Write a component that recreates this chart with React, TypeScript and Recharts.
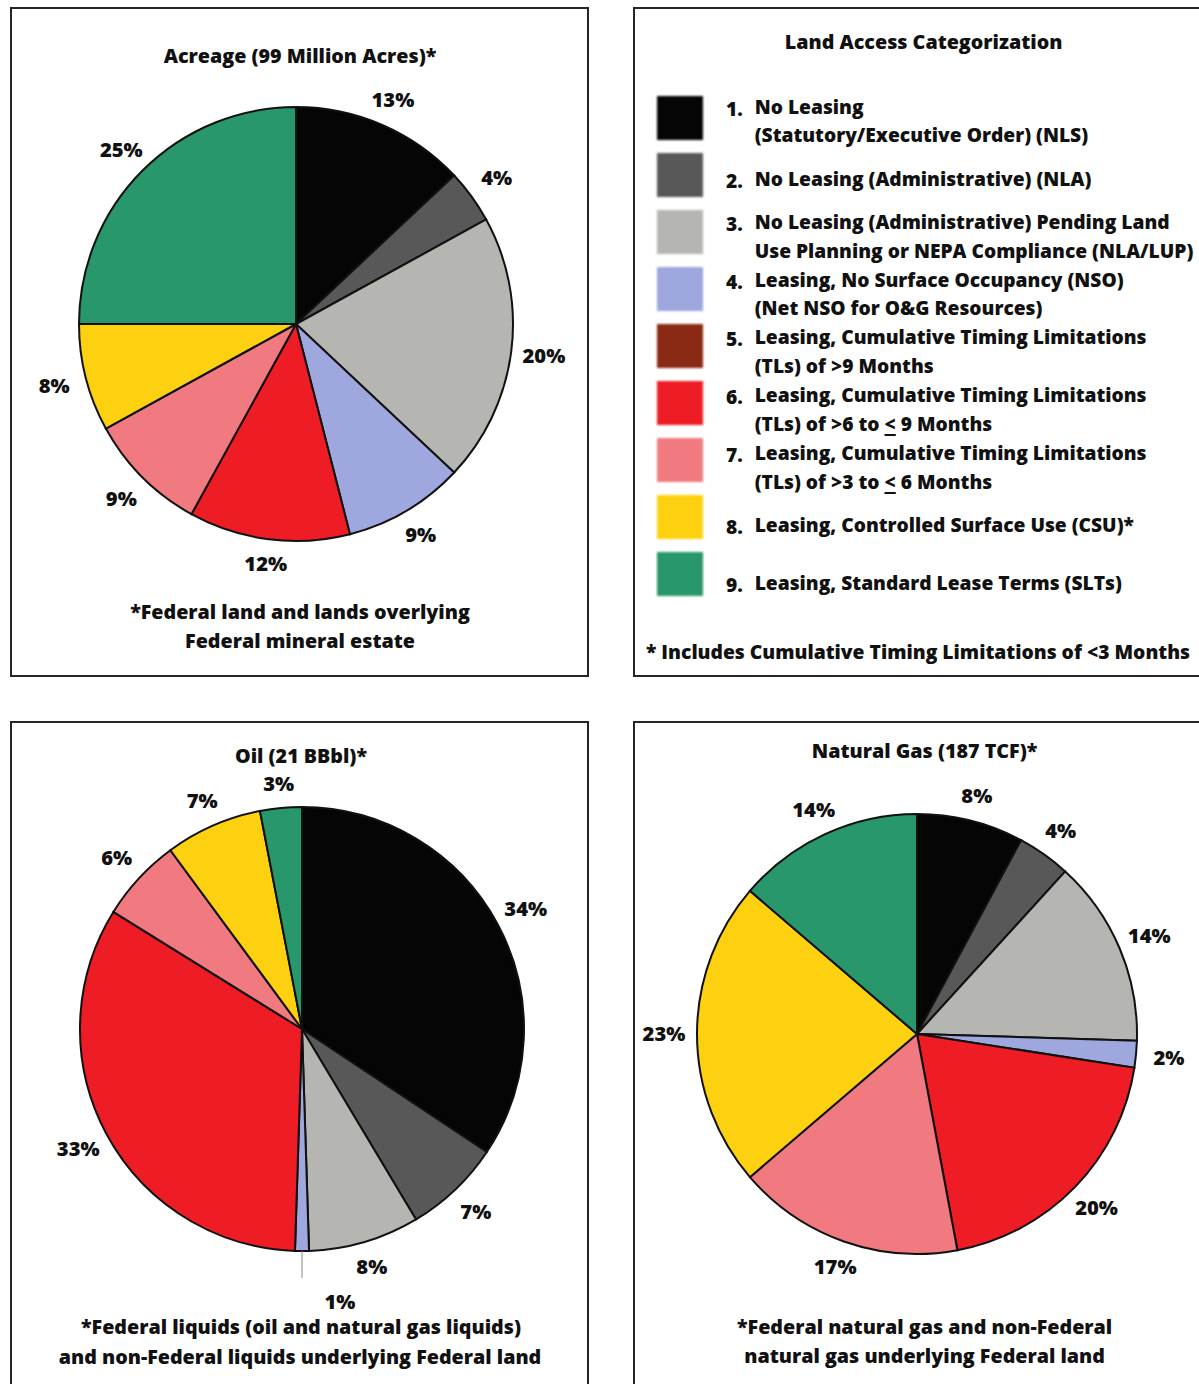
import React from 'react';
import { PieChart, Pie, Cell } from 'recharts';

// ---------- data ----------
const categoryNames = [
  'No Leasing (Statutory/Executive Order) (NLS)',
  'No Leasing (Administrative) (NLA)',
  'No Leasing (Administrative) Pending Land Use Planning or NEPA Compliance (NLA/LUP)',
  'Leasing, No Surface Occupancy (NSO)',
  'Leasing, Cumulative Timing Limitations (TLs) of >9 Months',
  'Leasing, Cumulative Timing Limitations (TLs) of >6 to ≤ 9 Months',
  'Leasing, Cumulative Timing Limitations (TLs) of >3 to ≤ 6 Months',
  'Leasing, Controlled Surface Use (CSU)*',
  'Leasing, Standard Lease Terms (SLTs)',
];
const categoryColors = [
  '#050505', '#585858', '#b5b5b2', '#9ea7de', '#8a2a14',
  '#ee1c25', '#f17a80', '#fdd10f', '#28976b',
];
const legendLines: string[][] = [
  ['No Leasing', '(Statutory/Executive Order) (NLS)'],
  ['No Leasing (Administrative) (NLA)'],
  ['No Leasing (Administrative) Pending Land', 'Use Planning or NEPA Compliance (NLA/LUP)'],
  ['Leasing, No Surface Occupancy (NSO)', '(Net NSO for O&G Resources)'],
  ['Leasing, Cumulative Timing Limitations', '(TLs) of >9 Months'],
  ['Leasing, Cumulative Timing Limitations', '(TLs) of >6 to ≤ 9 Months'],
  ['Leasing, Cumulative Timing Limitations', '(TLs) of >3 to ≤ 6 Months'],
  ['Leasing, Controlled Surface Use (CSU)*'],
  ['Leasing, Standard Lease Terms (SLTs)'],
];
const acreageValues = [13, 4, 20, 9, 0, 12, 9, 8, 25];
const oilValues = [34, 7, 8, 1, 0, 33, 6, 7, 3];
const gasValues = [8, 4, 14, 2, 0, 20, 17, 23, 14];

const acreageTitle = 'Acreage (99 Million Acres)*';
const oilTitle = 'Oil (21 BBbl)*';
const gasTitle = 'Natural Gas (187 TCF)*';
const acreageNotes = ['*Federal land and lands overlying', 'Federal mineral estate'];
const oilNotes = ['*Federal liquids (oil and natural gas liquids)', 'and non-Federal liquids underlying Federal land'];
const gasNotes = ['*Federal natural gas and non-Federal', 'natural gas underlying Federal land'];
const legendTitle = 'Land Access Categorization';
const legendNote = '* Includes Cumulative Timing Limitations of <3 Months';

// ---------- styles ----------
const FONT = "'Open Sans', 'Noto Sans', sans-serif";
const FS = 19.7;
const FW = 800;
const INK = '#111';
const RAD = Math.PI / 180;

const buildData = (values: number[]) =>
  categoryNames
    .map((name, i) => ({ name, value: values[i], color: categoryColors[i] }))
    .filter((d) => d.value > 0);

const renderLabel = (props: any) => {
  const { cx, cy, midAngle, outerRadius, value, percent } = props;
  if (!value) return null;
  const c = Math.cos(-midAngle * RAD);
  const s = Math.sin(-midAngle * RAD);
  const text = `${value}%`;
  if (percent < 0.015) {
    const x1 = cx + outerRadius * c;
    const y1 = cy + outerRadius * s;
    const x2 = cx + (outerRadius + 27) * c;
    const y2 = cy + (outerRadius + 27) * s;
    return (
      <g>
        <line x1={x1} y1={y1} x2={x2} y2={y2} stroke="#888" strokeWidth={1} />
        <text x={x2 + 38} y={y2 + 24} dy="0.36em" textAnchor="middle" fontFamily={FONT} fontWeight={FW} fontSize={FS + 0.5} fill={INK}>
          {text}
        </text>
      </g>
    );
  }
  const d = outerRadius + 23 + 10 * Math.abs(c);
  return (
    <text x={cx + d * c} y={cy + d * s} dy="0.36em" textAnchor="middle" fontFamily={FONT} fontWeight={FW} fontSize={FS + 0.5} fill={INK}>
      {text}
    </text>
  );
};

function Txt({ x, y, children, align = 'center', lh = 28, size = FS }: any) {
  const style: React.CSSProperties = {
    position: 'absolute',
    top: y - 14.5,
    lineHeight: `${lh}px`,
    fontSize: size,
    fontWeight: FW,
    fontFamily: FONT,
    color: INK,
    whiteSpace: 'nowrap',
  };
  if (align === 'center') {
    style.left = x - 500;
    style.width = 1000;
    style.textAlign = 'center';
  } else {
    style.left = x;
  }
  return <div style={style}>{children}</div>;
}

function Box({ left, top, width, height }: any) {
  return (
    <div
      style={{
        position: 'absolute', left, top, width, height,
        border: '2px solid #262626', boxSizing: 'border-box', background: 'transparent',
      }}
    />
  );
}

function PieBlock({ values, left, top, width, height, cx, cy, r }: any) {
  const data = buildData(values);
  return (
    <div style={{ position: 'absolute', left, top, width, height }}>
      <PieChart width={width} height={height} margin={{ top: 0, right: 0, bottom: 0, left: 0 }}>
        <Pie
          data={data}
          dataKey="value"
          nameKey="name"
          cx={cx}
          cy={cy}
          innerRadius={0}
          outerRadius={r}
          startAngle={90}
          endAngle={-270}
          stroke="#111"
          strokeWidth={2}
          label={renderLabel}
          labelLine={false}
          isAnimationActive={false}
        >
          {data.map((d, i) => (
            <Cell key={i} fill={d.color} />
          ))}
        </Pie>
      </PieChart>
    </div>
  );
}

function renderLine(line: string) {
  const parts = line.split('≤');
  return parts.map((p, i) => (
    <React.Fragment key={i}>
      {i > 0 && <span style={{ textDecoration: 'underline', textDecorationThickness: '2px', textUnderlineOffset: '3px' }}>&lt;</span>}
      {p}
    </React.Fragment>
  ));
}

function Legend() {
  const LH = 28.7;
  const LS = 19.2;
  return (
    <>
      <Txt x={923.6} y={42}>{legendTitle}</Txt>
      {legendLines.map((lines, i) => {
        const swTop = 95.5 + i * 57.1;
        const center = swTop + 22 + 4 + i * 0.6;
        const firstY = center - ((lines.length - 1) * LH) / 2;
        return (
          <React.Fragment key={i}>
            <div
              style={{
                position: 'absolute', left: 657, top: swTop, width: 46, height: 44,
                background: categoryColors[i], filter: 'blur(1.2px)',
              }}
            />
            <Txt x={726} y={firstY + 2} align="left" size={LS}>{`${i + 1}.`}</Txt>
            {lines.map((ln, j) => (
              <Txt key={j} x={754.7} y={firstY + j * LH} align="left" size={LS}>{renderLine(ln)}</Txt>
            ))}
          </React.Fragment>
        );
      })}
      <Txt x={646} y={652} align="left" size={19.3}>{legendNote}</Txt>
    </>
  );
}

export default function App() {
  return (
    <div style={{ position: 'absolute', left: 0, top: 0, width: 1199, height: 1384, overflow: 'hidden', background: '#fff' }}>
      {/* Acreage panel */}
      <Box left={10} top={7} width={579} height={670} />
      <PieBlock values={acreageValues} left={0} top={0} width={600} height={690} cx={296} cy={324} r={217} />
      <Txt x={300} y={56}>{acreageTitle}</Txt>
      <Txt x={300} y={612}>{acreageNotes[0]}</Txt>
      <Txt x={300} y={641}>{acreageNotes[1]}</Txt>

      {/* Legend panel */}
      <Box left={633} top={7} width={600} height={670} />
      <Legend />

      {/* Oil panel */}
      <Box left={10} top={721} width={579} height={700} />
      <PieBlock values={oilValues} left={0} top={690} width={600} height={694} cx={302} cy={339} r={222} />
      <Txt x={301} y={756}>{oilTitle}</Txt>
      <Txt x={301} y={1327.5}>{oilNotes[0]}</Txt>
      <Txt x={300} y={1357}>{oilNotes[1]}</Txt>

      {/* Natural gas panel */}
      <Box left={633} top={721} width={600} height={700} />
      <PieBlock values={gasValues} left={600} top={690} width={599} height={694} cx={317} cy={344} r={220} />
      <Txt x={924.6} y={751.4}>{gasTitle}</Txt>
      <Txt x={924.6} y={1327.5}>{gasNotes[0]}</Txt>
      <Txt x={924.6} y={1356.5}>{gasNotes[1]}</Txt>
    </div>
  );
}
